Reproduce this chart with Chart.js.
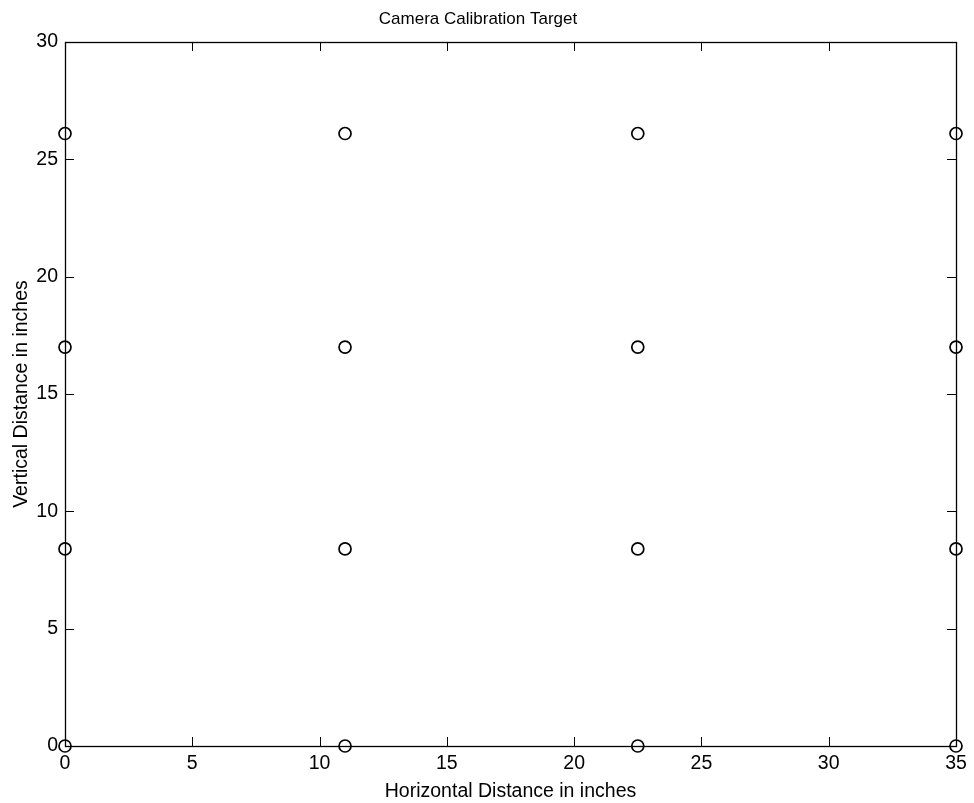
<!DOCTYPE html>
<html>
<head>
<meta charset="utf-8">
<title>Camera Calibration Target</title>
<script src="https://cdn.jsdelivr.net/npm/chart.js@4/dist/chart.umd.min.js"></script>
<style>
    html, body { margin: 0; padding: 0; background: #fff; }
    #wrap { width: 974px; height: 803px; }
</style>
</head>
<body>
<div id="wrap"><canvas id="myChart" width="974" height="803"></canvas></div>
<script>
// target dot positions (inches)
const dotX = [0, 0, 0, 0, 11, 11, 11, 11, 22.5, 22.5, 22.5, 22.5, 35, 35, 35, 35];
const dotY = [0, 8.4, 17, 26.1, 0, 8.4, 17, 26.1, 0, 8.4, 17, 26.1, 0, 8.4, 17, 26.1];
const xTicks = [0, 5, 10, 15, 20, 25, 30, 35];
const yTicks = [0, 5, 10, 15, 20, 25, 30];

const points = dotX.map((x, i) => ({ x: x, y: dotY[i] }));

const FONT = 'Liberation Sans, Arial, Helvetica, sans-serif';

// box around the plot with inward ticks on all four sides
const boxTicks = {
    id: 'boxTicks',
    afterDraw(chart) {
        const { ctx, chartArea: a, scales } = chart;
        const len = 9;
        ctx.save();
        ctx.strokeStyle = '#000';
        ctx.lineWidth = 1;
        ctx.beginPath();
        xTicks.forEach(v => {
            const px = Math.round(scales.x.getPixelForValue(v)) + 0.5;
            ctx.moveTo(px, a.bottom); ctx.lineTo(px, a.bottom - len);
            ctx.moveTo(px, a.top); ctx.lineTo(px, a.top + len);
        });
        yTicks.forEach(v => {
            const py = Math.round(scales.y.getPixelForValue(v)) + 0.5;
            ctx.moveTo(a.left, py); ctx.lineTo(a.left + len, py);
            ctx.moveTo(a.right, py); ctx.lineTo(a.right - len, py);
        });
        ctx.stroke();
        ctx.lineWidth = 1.3;
        ctx.strokeRect(Math.round(a.left) + 0.5, Math.round(a.top) + 0.5,
            Math.round(a.right - a.left), Math.round(a.bottom - a.top));
        ctx.restore();
    }
};

let ctx = document.getElementById('myChart').getContext('2d');

new Chart(ctx, {
    type: 'scatter',
    data: {
        datasets: [{
            data: points,
            pointStyle: 'circle',
            pointRadius: 6,
            pointHoverRadius: 6,
            pointBorderWidth: 1.7,
            borderColor: '#000',
            backgroundColor: 'rgba(0,0,0,0)',
            clip: false
        }]
    },
    options: {
        responsive: false,
        animation: false,
        layout: { padding: { left: 0, right: 18, top: 0, bottom: 0 } },
        plugins: {
            legend: { display: false },
            tooltip: { enabled: false },
            title: {
                display: true,
                text: 'Camera Calibration Target',
                color: '#000',
                font: { family: FONT, size: 17, weight: 'normal' },
                padding: { top: 9, bottom: 12.6 }
            }
        },
        scales: {
            x: {
                type: 'linear',
                min: 0,
                max: 35,
                afterBuildTicks: s => { s.ticks = xTicks.map(v => ({ value: v })); },
                afterFit: s => { s.height = 57; },
                grid: { display: false, drawTicks: false },
                border: { display: false },
                ticks: {
                    color: '#000',
                    padding: 6,
                    maxRotation: 0,
                    font: { family: FONT, size: 19.5 }
                },
                title: {
                    display: true,
                    text: 'Horizontal Distance in inches',
                    color: '#000',
                    font: { family: FONT, size: 19.5 },
                    padding: { top: 2, bottom: 0 }
                }
            },
            y: {
                type: 'linear',
                min: 0,
                max: 30,
                afterBuildTicks: s => { s.ticks = yTicks.map(v => ({ value: v })); },
                afterFit: s => { s.width = 65; },
                grid: { display: false, drawTicks: false },
                border: { display: false },
                ticks: {
                    color: '#000',
                    padding: 7,
                    font: { family: FONT, size: 19.5 }
                },
                title: {
                    display: true,
                    text: 'Vertical Distance in inches',
                    color: '#000',
                    font: { family: FONT, size: 19.5 },
                    padding: { top: 10, bottom: 0 }
                }
            }
        }
    },
    plugins: [boxTicks]
});
</script>
</body>
</html>
